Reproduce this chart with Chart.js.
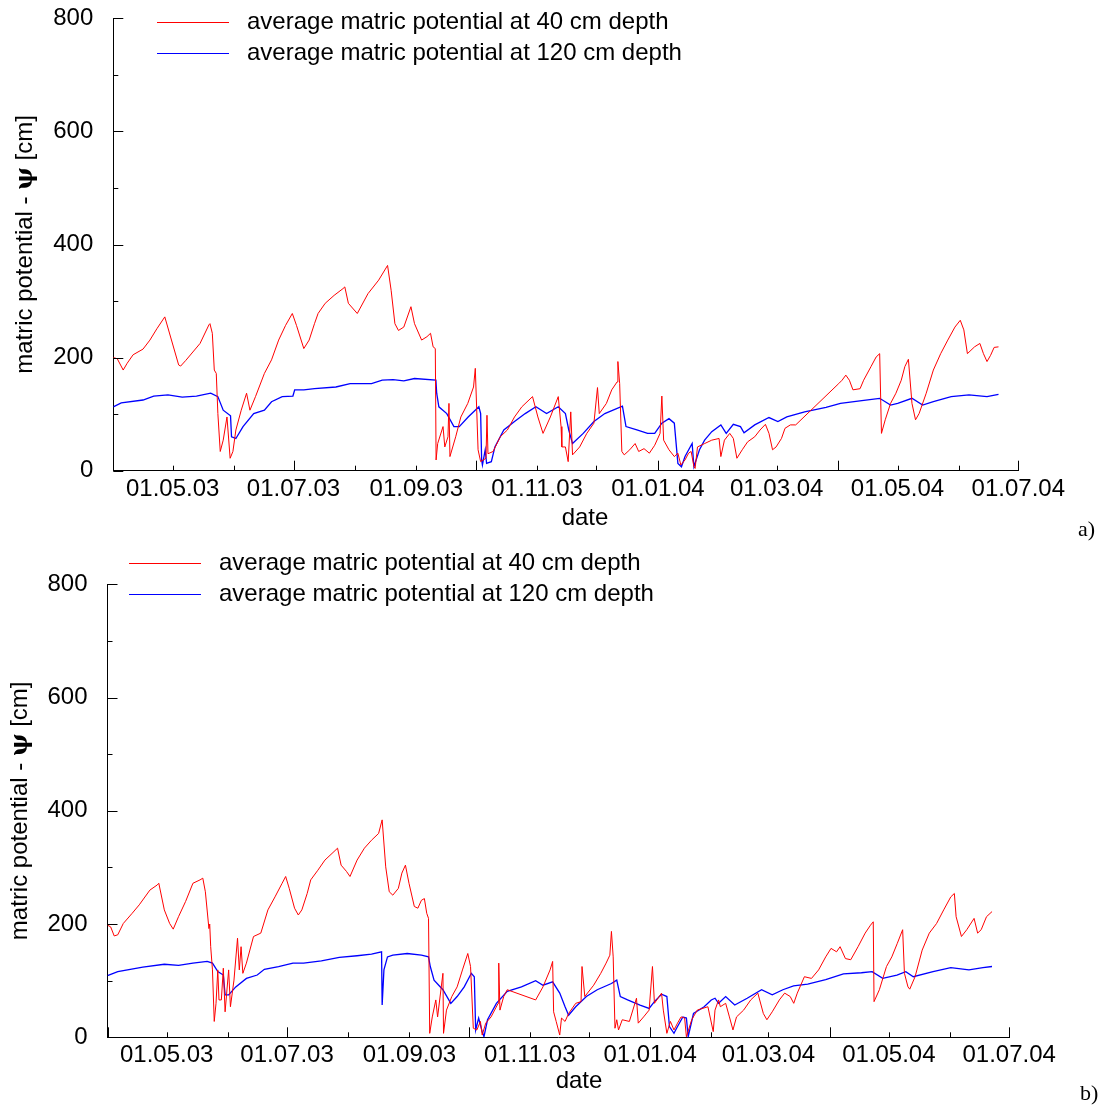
<!DOCTYPE html>
<html>
<head>
<meta charset="utf-8">
<script src="https://cdn.jsdelivr.net/npm/chart.js@4.4.1/dist/chart.umd.min.js"></script>
<style>
  body { margin: 0; background: #fff; }
  canvas { position: absolute; left: 0; }
  #chartA { top: 0; }
  #chartB { top: 550px; }
</style>
</head>
<body>
<canvas id="chartA" width="1102" height="550"></canvas>
<canvas id="chartB" width="1102" height="560"></canvas>
<script>
'use strict'

// x values are days since 01.04.2003
const TICK_DAYS = [0, 30, 61, 91, 122, 153, 183, 214, 244, 275, 306, 335, 366, 396, 427, 457]
const TICK_TEXT = ['', '01.05.03', '', '01.07.03', '', '01.09.03', '', '01.11.03', '', '01.01.04', '', '01.03.04', '', '01.05.04', '', '01.07.04']
const LONG_TICKS = [0, 91, 183, 275, 366, 457]
const SERIES_LABELS = ['average matric potential at 40 cm depth', 'average matric potential at 120 cm depth']

// panel a) [day, psi]
const A_RED = [[0,200],[2,198],[5,178],[7,190],[10,205],[15,215],[18.5,231],[22,251],[26,272],[33,187],[34,185],[36.6,195],[43.8,225],[48.3,258],[48.8,260],[50,243],[51,178],[52,172],[52.8,101],[54,34],[55.5,54],[57.4,95],[59,22],[60.4,34],[61.9,72],[64.6,107],[67.3,137],[69,107],[71.8,131],[76.3,172],[79.9,196],[83.5,231],[87,257],[90.4,278],[92.5,257],[96.2,216],[98.9,231],[101.6,260],[103.4,278],[107,296],[111.5,310],[116,322],[116.9,325],[118.7,296],[123.2,278],[128.6,313],[134,337],[138.5,363],[140.3,319],[142.2,260],[144,248],[146.7,254],[150.3,290],[152.1,260],[155.7,231],[158.4,237],[160.2,243],[161.5,219],[162.6,216],[163,19],[163.8,48],[166.5,78],[167.4,42],[169,60],[169.5,119],[170,25],[172.9,60],[175.5,95],[179,119],[181.9,148],[182.8,181],[184.2,37],[185.5,16],[188.2,22],[188.7,98],[189.2,30],[191.8,34],[195.4,60],[199,72],[202.6,95],[206.3,113],[211.7,131],[214.4,95],[217,66],[220.7,95],[224.7,131],[226.1,78],[226.5,42],[228.3,42],[229.7,16],[231,104],[231.9,28],[235.5,42],[239.1,66],[242.7,84],[244.5,147],[245.4,101],[249,119],[251.7,143],[254.4,157],[254.8,193],[255.7,154],[256.8,34],[258,28],[260.8,37],[263.5,48],[265.3,34],[268,39],[270.7,31],[273.4,45],[276.1,66],[277,132],[277.9,54],[280.6,37],[283.3,25],[285.1,31],[286.6,10],[288.7,19],[290.5,31],[291.8,34],[293.2,7],[293.8,4],[295,42],[298.6,48],[302.2,54],[305.9,57],[306.8,25],[308.6,54],[311.3,66],[313.1,57],[314.9,22],[317.6,37],[320.3,51],[323.9,60],[326.6,72],[329.3,82],[331.1,66],[332.9,37],[334.7,42],[337.4,57],[339.2,75],[341.9,81],[344.6,81],[366.3,154],[368,160],[369.9,169],[371.7,160],[373.5,143],[377.1,145],[378.9,160],[382.6,184],[385.2,201],[387,207],[387.9,66],[389.8,90],[392.5,119],[395.2,137],[397.9,160],[399.7,184],[401.5,197],[403.3,119],[405.1,90],[406.9,101],[410.5,137],[414.1,178],[417.8,207],[421.4,231],[425,254],[427.7,266],[429.5,249],[431.3,207],[433.1,213],[434.9,219],[437.6,225],[439.4,207],[441.2,193],[443,204],[444.8,218],[447,219]]
const A_BLUE = [[0,113],[4,120],[15,125],[20.4,132],[27.6,134],[34.8,130],[42,132],[49.2,137],[52.8,131],[55.5,107],[59.2,97],[59.7,60],[61.9,57],[65.5,78],[70.9,101],[76.3,107],[79.9,122],[85.3,131],[90.7,132],[91.6,143],[96.2,143],[101.6,145],[112.4,148],[119.6,154],[130.4,154],[135.8,160],[141.3,161],[146.7,159],[152.1,163],[162.9,160],[163.3,137],[164.4,113],[168.4,101],[172,78],[174.7,78],[179.2,95],[184.6,113],[185.5,101],[186,19],[186.4,10],[187.8,37],[188.5,13],[190.9,16],[192.7,42],[197.2,72],[202.6,87],[208,101],[213.4,113],[218.8,101],[224.7,113],[228.3,101],[230,72],[231.9,48],[237.3,66],[242.7,87],[248.2,101],[257.1,114],[258.9,78],[264.4,72],[269.8,66],[273.4,66],[277,84],[280.6,92],[283.3,84],[285.1,13],[286.9,7],[288.7,25],[292.3,48],[293.2,7],[296,37],[298.6,54],[302.2,69],[306.8,81],[309.5,66],[313.1,82],[316.7,78],[318.5,67],[323.9,81],[331.1,94],[335.6,87],[340.1,95],[349.1,104],[359.9,112],[367.2,119],[378,124],[387,128],[392.5,116],[396.1,119],[403.3,128],[408.7,116],[414.1,122],[423.1,131],[432.1,134],[441.2,131],[447,135]]

// panel b) [day, psi]
const B_RED = [[0,198],[1.6,195],[3.4,179],[5.2,181],[8,201],[12.5,219],[16.1,234],[21.5,260],[25.2,269],[26,272],[28.8,225],[31.5,201],[33.3,191],[36,213],[39.6,240],[43.3,272],[46.9,278],[48.3,281],[49.6,257],[51.4,192],[51.8,200],[52.3,160],[53.2,119],[54.1,28],[55,60],[55.9,119],[56.5,66],[57.7,66],[58.7,122],[59.6,45],[61.4,119],[62.3,54],[64.1,101],[65.9,175],[66.8,119],[67.7,160],[68.6,113],[70.4,131],[74,178],[77.7,184],[81.3,225],[84.9,248],[88.5,272],[90.3,284],[92.1,263],[94.8,228],[96.7,216],[98.5,225],[101.2,254],[103,278],[106.6,295],[110.2,313],[114.8,328],[116.6,334],[118.4,304],[121.1,293],[122.9,284],[126.5,313],[130.2,334],[133.8,348],[137.4,360],[139.2,384],[141,301],[142.8,257],[144.6,251],[147.4,263],[149.2,290],[151,304],[152.8,272],[155.5,231],[157.3,228],[159.1,242],[160.6,245],[161.8,219],[162.7,210],[163.3,7],[164.6,36],[166.4,66],[167.3,36],[170,113],[170.3,7],[171.8,48],[174.5,72],[177.2,89],[179.9,119],[182.6,148],[184,125],[185.4,16],[187.2,13],[189,28],[189.9,4],[191.7,25],[194.4,36],[198,60],[198.3,131],[198.9,48],[200.8,72],[202.6,84],[217,66],[220.7,89],[224.3,119],[225.6,134],[226.1,45],[227.4,28],[229.2,4],[230.1,34],[231.9,28],[233.7,42],[237.3,60],[240,63],[240.5,125],[241.9,72],[246.4,92],[250,113],[252.7,131],[254.6,145],[255.4,187],[256.3,142],[257.2,16],[258.1,31],[259,13],[260.9,31],[264.5,28],[268.1,69],[269,25],[271.7,36],[274.5,48],[276.2,125],[277.2,60],[280.8,78],[281.7,48],[283.5,7],[285.3,28],[287.1,13],[288.9,25],[290.7,36],[292.5,34],[293.4,1],[296.1,31],[298.9,48],[304.3,54],[307,10],[307.9,48],[309.7,66],[310.6,54],[313.3,60],[315.2,36],[317,13],[318.8,36],[322.4,48],[326,66],[329.6,78],[332.4,42],[334.2,31],[336.9,45],[340.5,66],[343.2,78],[346,72],[347.8,60],[349.6,78],[353.2,107],[356.8,104],[360.4,119],[364,142],[366.7,157],[369.5,151],[371.3,160],[374,139],[376.7,137],[380.4,160],[384,184],[386.7,198],[388.1,204],[388.5,63],[391.2,84],[394.8,125],[397.5,142],[400.3,166],[403,190],[403.9,113],[405.7,89],[406.6,85],[409.3,107],[412.9,154],[416.5,184],[420.2,201],[423.8,225],[427.4,248],[429.2,254],[430.1,213],[432.8,178],[435.5,190],[439.2,210],[441,184],[442.8,190],[445.5,213],[448.3,222]]
const B_BLUE = [[0,109],[5.2,116],[17.9,124],[28.8,129],[36,127],[43.3,131],[50.5,134],[53.2,131],[55.9,116],[58.7,110],[59.6,75],[61.4,75],[65,89],[70.4,104],[75.9,110],[79.5,120],[86.7,125],[94,131],[99.4,131],[108.4,135],[117.5,141],[126.5,144],[133.8,147],[138.9,151],[139.2,57],[140.1,119],[141.9,142],[144.6,145],[151.9,148],[159.1,145],[162.7,142],[163.6,125],[165.5,101],[170,84],[174,60],[177.2,72],[180.8,89],[184.4,113],[185.9,107],[186.6,13],[188.1,34],[189.9,10],[190.8,1],[192.6,31],[197.1,60],[202.6,81],[209.8,89],[217,100],[220.7,92],[225.6,98],[229.2,78],[231.9,54],[233.7,39],[237.3,54],[242.7,72],[248.2,84],[255.4,95],[258.1,101],[259.9,72],[263.6,66],[269.9,57],[274.5,51],[277.2,63],[280.8,76],[283.5,72],[284.8,19],[287.1,7],[288.9,19],[291.6,36],[293.4,34],[294.3,1],[297,42],[302.4,54],[306,66],[307.9,69],[309.7,60],[313.3,72],[317.9,57],[324.2,69],[331.5,84],[336.9,75],[342.3,84],[347.7,91],[354.9,94],[364,102],[373,112],[382.1,114],[387.5,116],[392.9,104],[400.1,110],[404.6,116],[408.4,107],[418.4,116],[427.4,123],[436.6,119],[443.7,123],[448.3,125]]

const FONT = '"Liberation Sans", Arial, Helvetica, sans-serif'
Chart.defaults.font.family = FONT
Chart.defaults.font.size = 24
Chart.defaults.color = '#000'

const toXY = pts => pts.map(p => ({x: p[0], y: p[1]}))

// ticks drawn inward, legend, axis titles, panel letter
const decor = {
	id: 'decor',
	afterDraw(chart, args, o) {
		const {ctx, chartArea: a, scales: {x, y}} = chart
		ctx.save()
		ctx.strokeStyle = '#000'
		ctx.lineWidth = 1
		x.ticks.forEach(t => {
			const px = Math.round(x.getPixelForValue(t.value)) + 0.5
			const len = LONG_TICKS.includes(t.value) ? 10 : 5
			ctx.beginPath()
			ctx.moveTo(px, a.bottom)
			ctx.lineTo(px, a.bottom - len)
			ctx.stroke()
		})
		y.ticks.forEach(t => {
			const py = Math.round(y.getPixelForValue(t.value)) + 0.5
			const len = t.value % 200 === 0 ? 10 : 5
			ctx.beginPath()
			ctx.moveTo(a.left, py)
			ctx.lineTo(a.left + len, py)
			ctx.stroke()
		})

		// legend
		ctx.font = '24px ' + FONT
		ctx.fillStyle = '#000'
		ctx.textBaseline = 'middle'
		ctx.textAlign = 'left'
		chart.data.datasets.forEach((ds, i) => {
			const ly = o.legendY + i * 31
			ctx.strokeStyle = ds.borderColor
			ctx.beginPath()
			ctx.moveTo(o.legendX, ly + 0.5)
			ctx.lineTo(o.legendX + 72, ly + 0.5)
			ctx.stroke()
			ctx.fillText(ds.label, o.legendX + 90, ly)
		})

		// x title
		ctx.textAlign = 'center'
		ctx.fillText('date', o.dateX, o.dateY)

		// y title, psi in bold
		const parts = [['matric potential - ', '24px ' + FONT], ['\u03c8', 'bold 24px "DejaVu Serif", serif'], [' [cm]', '24px ' + FONT]]
		let total = 0
		parts.forEach(p => { ctx.font = p[1]; total += ctx.measureText(p[0]).width })
		ctx.translate(o.titleX, (a.top + a.bottom) / 2)
		ctx.rotate(-Math.PI / 2)
		ctx.textAlign = 'left'
		ctx.textBaseline = 'alphabetic'
		let cx = -total / 2
		parts.forEach(p => {
			ctx.font = p[1]
			ctx.fillText(p[0], cx, 0)
			cx += ctx.measureText(p[0]).width
		})
		ctx.setTransform(1, 0, 0, 1, 0, 0)

		ctx.font = '22px "Liberation Serif", "DejaVu Serif", serif'
		ctx.textAlign = 'left'
		ctx.fillText(o.panel, o.panelX, o.panelY)
		ctx.restore()
	}
}

function makeChart(id, red, blue, box, extra) {
	return new Chart(document.getElementById(id), {
		type: 'line',
		data: {
			datasets: [
				{label: SERIES_LABELS[0], data: toXY(red), borderColor: '#ff0000', borderWidth: 1},
				{label: SERIES_LABELS[1], data: toXY(blue), borderColor: '#0000ff', borderWidth: 1.3}
			]
		},
		options: {
			responsive: false,
			animation: false,
			events: [],
			elements: {point: {radius: 0}, line: {tension: 0}},
			layout: {padding: {top: box.top, right: box.right, left: 0, bottom: 0}},
			scales: {
				x: {
					type: 'linear',
					min: 0,
					max: 457,
					afterBuildTicks: s => { s.ticks = TICK_DAYS.map(v => ({value: v})) },
					afterFit: s => { s.height = box.xh; s.paddingLeft = 0; s.paddingRight = 0 },
					grid: {display: false, drawTicks: false},
					border: {display: true, color: '#000', width: 1},
					ticks: {
						autoSkip: false,
						maxRotation: 0,
						padding: 4,
						callback: v => TICK_TEXT[TICK_DAYS.indexOf(v)] || ''
					}
				},
				y: {
					min: 0,
					max: 800,
					afterFit: s => { s.width = box.yw; s.paddingTop = 0; s.paddingBottom = 0 },
					grid: {display: false, drawTicks: false},
					border: {display: true, color: '#000', width: 1},
					ticks: {
						stepSize: 100,
						padding: 20,
						callback: v => (v % 200 === 0 ? String(v) : '')
					}
				}
			},
			plugins: {
				legend: {display: false},
				tooltip: {enabled: false},
				decor: extra
			}
		},
		plugins: [decor]
	})
}

makeChart('chartA', A_RED, A_BLUE,
	{top: 18.3, right: 83.7, xh: 79.3, yw: 113.3},
	{legendX: 157, legendY: 22, dateX: 585, dateY: 518, titleX: 31.5, panel: 'a)', panelX: 1078, panelY: 536})

makeChart('chartB', B_RED, B_BLUE,
	{top: 34.3, right: 92.8, xh: 72.7, yw: 107.5},
	{legendX: 129, legendY: 13, dateX: 579, dateY: 531, titleX: 26.5, panel: 'b)', panelX: 1080, panelY: 550})
</script>
</body>
</html>
